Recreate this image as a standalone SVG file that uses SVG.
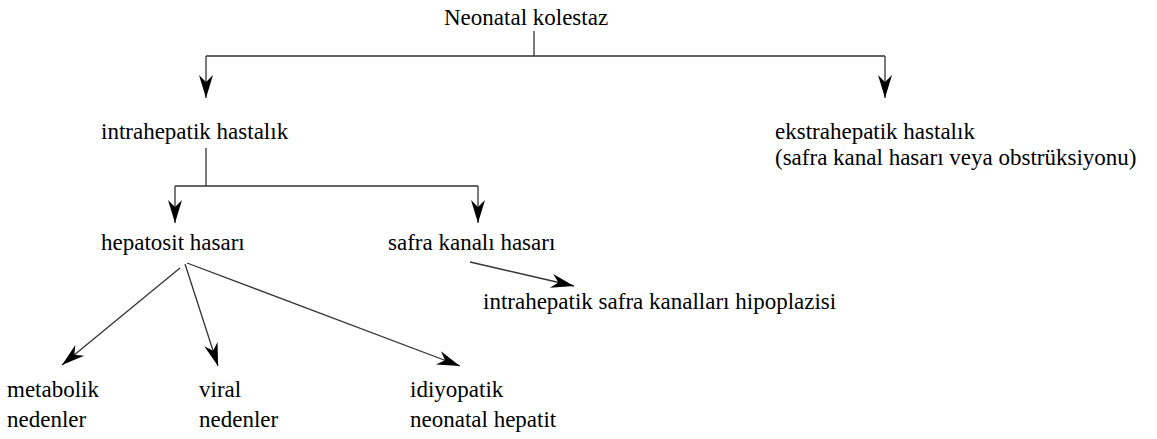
<svg xmlns="http://www.w3.org/2000/svg" width="1157" height="439" viewBox="0 0 1157 439">
<style>
.t{font-family:'Liberation Serif', 'Times New Roman', Times, serif;font-size:23px;fill:#000}
.c{fill:none;stroke:#333;stroke-width:1.3}
</style>
<defs>
<marker id="ah" markerUnits="userSpaceOnUse" markerWidth="26" markerHeight="18" viewBox="-24 -9 26 18" refX="0" refY="0" orient="auto">
<path d="M0,0 L-23,-7 L-16,0 L-23,7 Z" fill="#000"/>
</marker>
</defs>
<rect width="1157" height="439" fill="#fff"/>
<g class="t">
<g id="n-neonatal"><text x="444" y="25">Neonatal kolestaz</text></g>
<g id="n-intra"><text x="101" y="139">intrahepatik hastalık</text></g>
<g id="n-ekstra"><text x="775" y="139">ekstrahepatik hastalık</text><text x="775" y="165">(safra kanal hasarı veya obstrüksiyonu)</text></g>
<g id="n-hepatosit"><text x="101" y="250">hepatosit hasarı</text></g>
<g id="n-safra"><text x="388" y="250">safra kanalı hasarı</text></g>
<g id="n-hipoplazi"><text x="483" y="309">intrahepatik safra kanalları hipoplazisi</text></g>
<g id="n-metabolik"><text x="7" y="397">metabolik</text><text x="7" y="427">nedenler</text></g>
<g id="n-viral"><text x="199" y="397">viral</text><text x="199" y="427">nedenler</text></g>
<g id="n-idiyopatik"><text x="410" y="397">idiyopatik</text><text x="410" y="427">neonatal hepatit</text></g>
</g>
<g id="connectors">
<path class="c" d="M534,31 V56 M206,56 H885"/>
<path class="c" d="M206,56 V98" marker-end="url(#ah)"/>
<path class="c" d="M885,56 V98" marker-end="url(#ah)"/>
<path class="c" d="M206,148 V186 M175,186 H478"/>
<path class="c" d="M175,186 V223" marker-end="url(#ah)"/>
<path class="c" d="M478,186 V223" marker-end="url(#ah)"/>
<path class="c" d="M470,262 L574,286" marker-end="url(#ah)"/>
<path class="c" d="M180,268 L62,365" marker-end="url(#ah)"/>
<path class="c" d="M185,264 L218,366" marker-end="url(#ah)"/>
<path class="c" d="M187,263 L460,366" marker-end="url(#ah)"/>
</g>
</svg>
